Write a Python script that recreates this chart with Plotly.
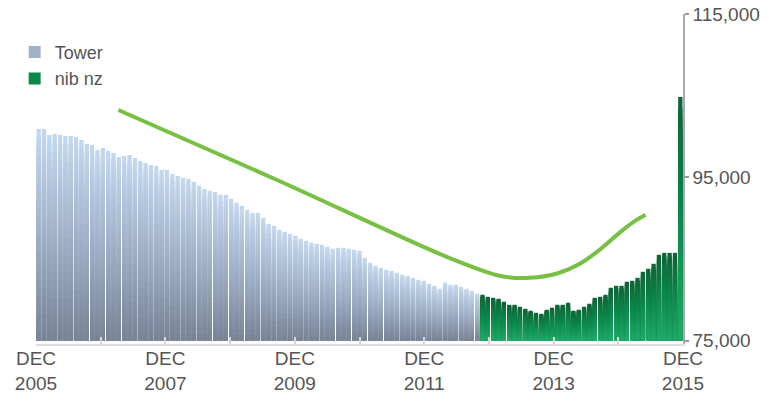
import plotly.graph_objects as go

# ---------------- data ----------------
years = list(range(2005, 2016))          # DEC tick years
tower = [100930, 100930, 100190, 100320, 100190, 100070, 100070, 99950, 99580, 99090,
         98970, 98360, 98600, 98240, 97990, 97500, 97630, 97750, 97380, 97010,
         96770, 96520, 96400, 95910, 95910, 95420, 95180, 94930, 94810, 94450,
         93960, 93590, 93350, 93220, 92860, 92860, 92370, 91880, 91510, 91020,
         90650, 90650, 90040, 89310, 89060, 88580, 88330, 88090, 87840, 87470,
         87230, 86990, 86860, 86740, 86500, 86250, 86370, 86370, 86250, 86130,
         86010, 85150, 84540, 84170, 83930, 83680, 83560, 83320, 83070, 82950,
         82700, 82460, 82340, 81970, 81730, 81360, 82090, 81850, 81850, 81600,
         81360, 81110, 80750]
nib = [80630, 80380, 80260, 80140, 79770, 79400, 79400, 79160, 78910, 78670,
       78420, 78300, 78790, 79040, 79400, 79400, 79650, 78670, 78790, 79160,
       79530, 80260, 80380, 80630, 81480, 81730, 81730, 82220, 82340, 82700,
       83440, 83810, 84420, 85520, 85760, 85760, 85760, 104840]
# trend line (x in months since Dec 2005)
line_x = [14.9, 45.0, 76.3, 86.2, 91.9, 97.4, 101.2, 104.9, 108.6, 111.0, 113.5]
line_y = [103250, 94560, 85270, 82950, 82700, 83320, 84420, 86130, 88210, 89430, 90410]

BASE = 75000
# --------------------------------------

n_t, n_n = len(tower), len(nib)
n = n_t + n_n
x_t = list(range(n_t))
x_n = list(range(n_t, n))


def hex2rgb(h):
    h = h.lstrip('#')
    return [int(h[i:i + 2], 16) for i in (0, 2, 4)]


def grad(stops, t):
    for (t0, c0), (t1, c1) in zip(stops[:-1], stops[1:]):
        if t0 <= t <= t1:
            f = (t - t0) / (t1 - t0)
            a, b = hex2rgb(c0), hex2rgb(c1)
            return 'rgb(%d,%d,%d)' % tuple(round(a[i] + (b[i] - a[i]) * f) for i in range(3))
    return stops[-1][1]


tower_stops = [(0, '#778295'), (0.5, '#9fb0c6'), (1, '#c4d8ef')]
nib_stops = [(0, '#22a968'), (0.5, '#0c8a4b'), (1, '#0d6336')]

fig = go.Figure()
K = 24


def add_series(xs, vals, name, stops):
    # gradient: full-height bars drawn from top colour down to bottom colour,
    # each later (shorter) bar covering the lower part of the previous one
    h = [v - BASE for v in vals]
    for k in range(K - 1, -1, -1):
        t = (k + 0.5) / K
        fig.add_bar(
            x=xs, y=[hh * (k + 1) / K for hh in h], base=BASE,
            width=0.8, marker=dict(color=grad(stops, t), line=dict(width=0)),
            name=name, legendgroup=name, showlegend=(k == K // 2),
            customdata=vals, hovertemplate=name + ': %{customdata:,}<extra></extra>')


add_series(x_t, tower, 'Tower', tower_stops)
add_series(x_n, nib, 'nib nz', nib_stops)

fig.add_scatter(x=line_x, y=line_y, mode='lines', showlegend=False, hoverinfo='skip',
                line=dict(color='#78c043', width=4, shape='spline', smoothing=0.8))

font_fam = "Liberation Sans, Arial, sans-serif"
step = n / (len(years) - 1)
tickvals = [-0.5 + i * step for i in range(len(years))]
ticktext = [("DEC<br>%d" % y) if (y - years[0]) % 2 == 0 else "" for y in years]

fig.update_layout(
    width=769, height=401,
    margin=dict(l=36, r=86, t=14, b=57),
    paper_bgcolor='white', plot_bgcolor='white',
    barmode='overlay',
    font=dict(family=font_fam, size=19, color='#555555'),
    legend=dict(x=-0.033, y=0.94, xanchor='left', yanchor='top',
                font=dict(family=font_fam, size=18, color='#555555'),
                bgcolor='rgba(0,0,0,0)', tracegroupgap=0, itemwidth=30),
    xaxis=dict(range=[-0.5, n - 0.5], tickmode='array', tickvals=tickvals, ticktext=ticktext,
               automargin=False, ticklabelstandoff=-4,
               showgrid=False, zeroline=False, showline=True, linecolor='#dddddd', linewidth=2,
               ticks='inside', ticklen=7, tickwidth=1.5, tickcolor='#d6d6d6',
               tickfont=dict(family=font_fam, size=19, color='#555555')),
    yaxis=dict(side='right', range=[74600, 115000], tickmode='array',
               tickvals=[75000, 95000, 115000], tickformat=',', automargin=False,
               showgrid=False, zeroline=False, showline=True, linecolor='#aaaaaa', linewidth=1.5,
               ticks='outside', ticklen=4, tickwidth=1.5, tickcolor='#999999',
               tickfont=dict(family=font_fam, size=19, color='#555555')),
)

fig.write_html("out.html")
